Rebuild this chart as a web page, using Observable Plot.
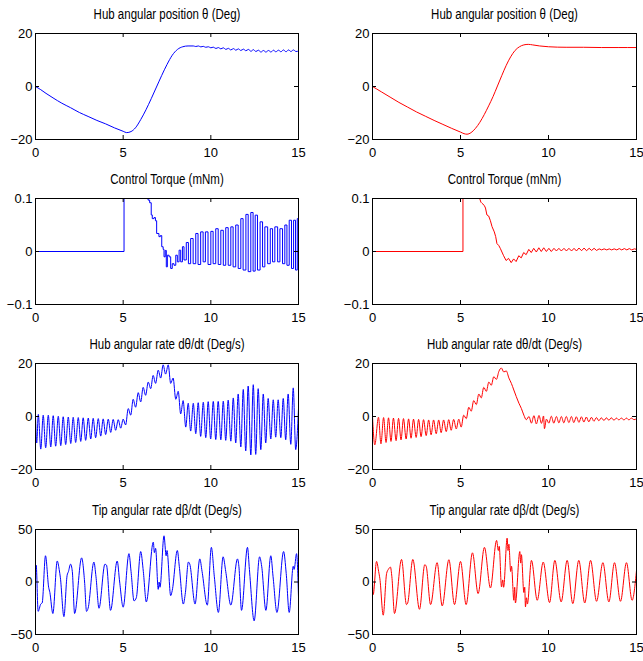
<!DOCTYPE html>
<html><head><meta charset="utf-8">
<script src="https://cdn.jsdelivr.net/npm/d3@7"></script>
<script src="https://cdn.jsdelivr.net/npm/@observablehq/plot@0.6"></script>
<style>
body{margin:0;background:#fff;}
#fig{position:relative;width:643px;height:661px;overflow:hidden;background:#fff;}
#fig svg{position:absolute;}
</style></head><body><div id="fig"></div>
<script>
// ---- titles & ticks ----
const titles = ["Hub angular position θ (Deg)", "Control Torque (mNm)", "Hub angular rate dθ/dt (Deg/s)", "Tip angular rate dβ/dt (Deg/s)"];
const xTicks = [0, 5, 10, 15];
const posTicks = [-20, 0, 20];
const torqueTicks = [-0.1, 0, 0.1];
const rateTicks = [-20, 0, 20];
const tipTicks = [-50, 0, 50];

// ---- series: [time s, value] ----
const posBlue = [[0,0],[0.3,-1.2],[0.6,-2.6],[1,-4.3],[1.5,-6.3],[2,-8.0],[2.5,-9.8],[3,-11.3],[3.5,-12.8],[4,-14.1],[4.5,-15.6],[5,-16.9],[5.2,-17.4],[5.45,-17.0],[5.7,-15.6],[6.0,-12.5],[6.3,-8.8],[6.6,-4.6],[6.9,-0.2],[7.2,4.2],[7.5,8.3],[7.8,11.8],[8.1,14.0],[8.4,15.0],[8.7,15.3],
[9.00,15.3],[9.14,15.1],[9.29,15.3],[9.43,14.95],[9.57,15.15],[9.71,14.8],[9.86,15.0],[10.00,14.6],[10.14,14.85],[10.29,14.35],[10.43,14.7],[10.57,14.2],[10.71,14.6],[10.86,14.0],[11.00,14.4],[11.14,13.8],[11.29,14.3],[11.43,13.7],[11.57,14.2],[11.71,13.6],[11.86,14.1],[12.00,13.5],[12.14,14.0],[12.29,13.3],[12.43,13.9],[12.57,13.2],[12.71,13.7],[12.86,13.0],[13.00,13.6],[13.14,13.0],[13.29,13.6],[13.43,13.0],[13.57,13.7],[13.71,13.1],[13.86,13.7],[14.00,13.1],[14.14,13.8],[14.29,13.1],[14.43,13.8],[14.57,13.2],[14.71,13.8],[14.86,13.2],[15.00,13.4]];

const posRed = [[0,0],[0.5,-2.0],[1,-4.0],[1.5,-6.0],[2,-7.8],[2.5,-9.6],[3,-11.2],[3.5,-12.8],[4,-14.3],[4.5,-15.8],[5,-17.2],[5.2,-17.8],[5.37,-18.0],[5.6,-17.4],[5.85,-15.8],[6.1,-13.5],[6.35,-10.6],[6.6,-7.3],[6.85,-3.8],[7.1,0.2],[7.35,4.2],[7.6,8.0],[7.85,11.2],[8.1,13.6],[8.35,15.0],[8.6,15.7],[8.85,15.9],[9.1,15.7],[9.5,15.3],[10,15.0],[11,14.8],[12,14.8],[13,14.7],[14,14.7],[15,14.7]];

const torqueBlue = [[0,0],[5.05,0.1],[6.42,0.097],[6.51,0.092],[6.6,0.069],[6.66,0.062],[6.76,0.064],[6.84,0.058],[6.91,0.034],[7.04,0.028],[7.12,0.03],[7.2,0.009],[7.28,0.004],[7.33,-0.01],[7.4,0.002],[7.46,-0.029],[7.52,-0.007],[7.62,-0.01],[7.71,-0.032],[7.8,-0.023],[7.9,-0.026],[8.0,-0.007],[8.09,-0.0195],[8.19,0.0025],[8.28,-0.0195],[8.38,0.009],[8.47,-0.016],[8.6,0.017],[8.72,-0.023],[8.85,0.0245],[8.99,-0.023],[9.14,0.034],[9.27,-0.0245],[9.42,0.037],[9.56,-0.0195],[9.69,0.037],[9.84,-0.0245],[10.0,0.038],[10.13,-0.023],[10.28,0.043],[10.42,-0.0245],[10.57,0.04],[10.71,-0.026],[10.85,0.045],[10.99,-0.026],[11.14,0.0465],[11.27,-0.029],[11.42,0.05],[11.56,-0.032],[11.71,0.062],[11.84,-0.035],[12.0,0.07],[12.13,-0.038],[12.28,0.0736],[12.41,-0.037],[12.53,0.0686],[12.66,-0.035],[12.81,0.056],[12.95,-0.029],[13.08,0.0465],[13.24,-0.023],[13.39,0.043],[13.52,-0.0195],[13.65,0.0465],[13.81,-0.0195],[13.94,0.043],[14.09,-0.023],[14.22,0.05],[14.34,-0.026],[14.47,0.059],[14.6,-0.032],[14.72,0.059],[14.83,-0.035],[14.93,0.062],[15.0,0.028]];

const torqueRed = [[0,0],[5.14,0],[5.14,0.1],[6.09,0.1],[6.16,0.093],[6.22,0.091],[6.35,0.087],[6.42,0.082],[6.5,0.069],[6.6,0.067],[6.7,0.058],[6.79,0.047],[6.92,0.037],[7.0,0.028],[7.07,0.015],[7.18,0.011],[7.26,0.006],[7.45,-0.008],[7.59,-0.017],[7.73,-0.013],[7.88,-0.021],[8.02,-0.014],[8.16,-0.019],[8.31,-0.008],[8.45,-0.012],[8.59,-0.002],[8.73,-0.006],[8.88,0.004],[9.02,-0.002],[9.16,0.006],[9.31,-0.001],[9.45,0.007],[9.59,0.0],[9.73,0.007],[9.88,0.0],[10.02,0.006],[10.16,0.0],[10.31,0.006],[10.45,0.001],[10.59,0.006],[10.73,0.001],[10.88,0.006],[11.02,0.001],[11.16,0.006],[11.31,0.001],[11.45,0.006],[11.59,0.001],[11.73,0.0065],[11.88,0.0015],[12.02,0.0065],[12.16,0.0015],[12.31,0.006],[12.45,0.002],[12.59,0.006],[12.73,0.002],[12.88,0.005],[13.02,0.003],[13.16,0.005],[13.31,0.003],[13.45,0.005],[13.59,0.003],[13.73,0.005],[13.88,0.003],[14.02,0.0055],[14.16,0.003],[14.31,0.0055],[14.45,0.003],[14.59,0.0055],[14.73,0.003],[14.88,0.005],[15.0,0.004]];

const rateBlue = [[0,0],[0.07,-10],[0.16,0.8],[0.30,-12.3],[0.44,0.5],[0.58,-11.8],[0.73,0.5],[0.87,-11.5],[1.01,0.3],[1.15,-11.2],[1.30,0.1],[1.44,-11],[1.58,-0.1],[1.72,-10.6],[1.87,-0.2],[2.01,-10.2],[2.15,-0.3],[2.29,-9.8],[2.44,-0.4],[2.58,-9.4],[2.72,-0.5],[2.86,-9],[3.01,-0.6],[3.15,-8.5],[3.29,-0.7],[3.43,-8],[3.58,-0.8],[3.72,-7.4],[3.86,-0.9],[4.0,-6.8],[4.15,-1.0],[4.29,-6.0],[4.43,-1.1],[4.57,-5.2],[4.72,-1.2],[4.86,-4.4],[5.0,-1.0],[5.14,-3.2],[5.29,3.0],[5.43,0.5],[5.57,6.5],[5.71,3.5],[5.86,9.0],[6.0,5.5],[6.14,11.0],[6.28,8.0],[6.43,13.0],[6.57,10.5],[6.71,15.5],[6.85,12.5],[7.0,17.5],[7.14,14.5],[7.28,19.5],[7.42,16.0],[7.57,19.5],[7.71,12.5],[7.85,14.5],[8.0,6.5],[8.14,9.5],[8.28,1.0],[8.42,6.0],
[8.57,-4.0],[8.71,5.0],[8.85,-5.5],[9.00,5.0],[9.14,-6.5],[9.28,5.2],[9.42,-7.5],[9.57,5.4],[9.71,-8.0],[9.85,5.6],[9.99,-8.5],[10.14,5.7],[10.28,-8.7],[10.42,5.7],[10.57,-8.8],[10.71,5.8],[10.85,-9.0],[10.99,6.2],[11.14,-9.3],[11.28,7.0],[11.42,-10.0],[11.56,8.5],[11.71,-11.5],[11.85,10.2],[11.99,-13.0],[12.13,11.5],[12.28,-14.5],[12.42,12.0],[12.56,-14.3],[12.70,10.5],[12.85,-12.5],[12.99,8.5],[13.13,-10.0],[13.27,6.8],[13.42,-8.5],[13.56,6.3],[13.70,-7.8],[13.84,6.3],[13.99,-8.0],[14.13,6.8],[14.27,-8.8],[14.41,8.5],[14.56,-10.5],[14.70,10.8],[14.84,-12.5],[15.0,3.0]];

const rateRed = [[0,0],[0.13,-10.7],[0.34,-0.3],[0.48,-10.3],[0.63,-0.4],[0.77,-9.8],[0.91,-0.5],[1.05,-9.4],[1.19,-0.6],[1.34,-9.1],[1.48,-0.7],[1.62,-8.8],[1.76,-0.8],[1.91,-8.5],[2.05,-0.9],[2.19,-8.2],[2.33,-1.0],[2.48,-7.9],[2.62,-1.1],[2.76,-7.6],[2.90,-1.2],[3.05,-7.2],[3.19,-1.3],[3.33,-6.9],[3.47,-1.3],[3.62,-6.5],[3.76,-1.3],[3.90,-6.1],[4.04,-1.3],[4.19,-5.7],[4.33,-1.2],[4.47,-5.2],[4.61,-1.1],[4.76,-4.7],[4.90,-1.0],[5.04,-4.0],[5.18,0.5],[5.33,-0.8],[5.47,3.5],[5.61,2.0],[5.75,6.0],[5.90,4.5],[6.04,8.5],[6.18,7.0],[6.32,11.0],[6.47,9.5],[6.61,13.0],[6.75,11.8],[6.89,15.0],[7.04,14.0],[7.18,17.0],[7.32,18.3],[7.46,16.8],[7.60,17.2],[7.75,14.5],[7.89,12.5],[8.03,10.0],[8.17,7.5],[8.32,5.0],[8.46,3.0],[8.60,0.5],[8.74,-1.2],[8.89,0.0],
[9.03,-2.5],[9.17,0.3],[9.31,-2.8],[9.46,0.4],[9.60,-2.6],[9.72,0.2],[9.77,-4.6],[9.88,-1.0],[10.02,-2.5],[10.16,0.1],[10.30,-2.5],[10.45,0.0],[10.59,-2.4],[10.73,0.0],[10.87,-2.4],[11.01,0.0],[11.16,-2.3],[11.30,0.0],[11.44,-2.3],[11.58,-0.1],[11.73,-2.2],[11.87,-0.1],[12.01,-2.1],[12.15,-0.2],[12.29,-2.0],[12.44,-0.3],[12.58,-1.8],[12.72,-0.4],[12.86,-1.6],[13.00,-0.5],[13.15,-1.5],[13.29,-0.5],[13.43,-1.4],[13.57,-0.5],[13.72,-1.4],[13.86,-0.6],[14.00,-1.3],[14.14,-0.6],[14.29,-1.3],[14.43,-0.6],[14.57,-1.3],[14.71,-0.6],[14.86,-1.2],[15.00,-0.8]];

const tipBlue = [[0,5],[0.04,16],[0.15,-28],[0.3,-21],[0.38,-20],[0.57,25],[0.75,-5],[0.82,-10],[0.99,-30],[1.24,20],[1.35,12],[1.42,4],[1.62,-33],[1.8,6],[1.88,10],[2.0,17],[2.1,10],[2.23,-30],[2.63,23],[2.8,0],[2.91,-28],[3.0,-25],[3.33,19],[3.45,5],[3.62,-25],[3.96,17],[4.05,16],[4.28,-27],[4.66,20],[4.8,0],[5.0,-24],[5.33,27],[5.45,10],[5.62,-18],[5.75,-15],[6.0,29],[6.15,10],[6.32,-19],[6.72,38],[6.78,28],[6.85,32],[7.0,-7],[7.05,0],[7.1,-5],[7.33,44],[7.45,25],[7.5,30],[7.71,-13],[7.8,-8],[8.09,30],[8.2,15],[8.43,-21],[8.55,-10],[8.72,19],[8.8,17],[9.1,-21],[9.37,22],[9.5,10],[9.8,-22],[10.03,33],[10.2,5],[10.43,-29],[10.7,24],[10.85,10],[11.14,-22],[11.52,22],[11.6,15],[11.75,-27],[12.09,33],[12.2,12],[12.47,-37],[12.78,24],[12.9,15],[13.14,-27],[13.42,25],[13.55,5],[13.77,-29],[14.15,29],[14.3,8],[14.47,-29],[14.7,15],[14.75,12],[14.89,27],[15.0,-14]];

const tipRed = [[0,0],[0.04,-12],[0.23,19.6],[0.35,10],[0.42,3],[0.61,-31.6],[0.8,8],[0.9,12],[1.02,14.2],[1.1,5],[1.25,-30],[1.65,21.5],[1.93,-21.5],[2.0,-20],[2.29,21.5],[2.67,-26],[2.97,16.5],[3.05,15],[3.3,-21.5],[3.67,18.4],[3.96,-22.8],[4.34,21.2],[4.66,-21.5],[5.0,19.6],[5.32,-21.5],[5.68,27.8],[6.0,-11],[6.36,33],[6.7,-5.7],[7.05,39.6],[7.15,30],[7.2,34],[7.33,-4.7],[7.4,2],[7.45,-5],[7.65,41.8],[7.7,30],[7.75,36],[7.85,10],[7.9,15],[8.03,-17.4],[8.08,-5],[8.12,-20],[8.37,29],[8.42,18],[8.46,26],[8.6,-10],[8.65,-5],[8.69,-23.7],[8.75,-15],[8.8,-21],[9.03,20.6],[9.36,-17.4],[9.7,19],[10.06,-19.6],[10.36,20.6],[10.72,-19],[11.06,20.6],[11.38,-20.6],[11.72,20.6],[12.06,-20],[12.39,20.6],[12.73,-18.4],[13.09,18.4],[13.43,-19],[13.75,18.4],[14.09,-18.4],[14.43,18.4],[14.75,-17.4],[15.0,11]];

const blue = "#0000ff", red = "#ff0000";

const fmt = d => (d < 0 ? "\u2212" : "") + Math.abs(d);
const fig = document.getElementById("fig");

function panel(col, row, title, series, color, yDomain, yTicks, curve) {
  const left = col === 0 ? 0 : 320, W = col === 0 ? 320 : 323;
  const top = [0, 165, 330, 495][row], H = row === 3 ? 166 : 165;
  const mL = col === 0 ? 35 : 52, mR = col === 0 ? 22 : 7;
  const mT = row === 3 ? 34 : 33, mB = row === 3 ? 27 : 26;
  const iW = W - mL - mR, iH = H - mT - mB;
  const tk = 4;
  const data = series.map(([t, v]) => ({t, v}));
  const svg = Plot.plot({
    width: W, height: H,
    marginLeft: mL, marginRight: mR, marginTop: mT, marginBottom: mB,
    style: {background: "transparent", color: "#000", fontFamily: "'Liberation Sans', Arial, Helvetica, sans-serif", fontSize: "13px", overflow: "visible"},
    x: {domain: [0, 15], axis: null},
    y: {domain: yDomain, axis: null},
    marks: [
      Plot.line(data, {x: "t", y: "v", stroke: color, strokeWidth: 1, curve}),
      Plot.frame({stroke: "#000", strokeWidth: 1}),
      Plot.tickX(xTicks, {x: d => d, insetTop: iH - tk, stroke: "#000"}),
      Plot.tickX(xTicks, {x: d => d, insetBottom: iH - tk, stroke: "#000"}),
      Plot.tickY(yTicks, {y: d => d, insetRight: iW - tk, stroke: "#000"}),
      Plot.tickY(yTicks, {y: d => d, insetLeft: iW - tk, stroke: "#000"}),
      Plot.axisX(xTicks, {tickSize: 0, tickPadding: 8, tickFormat: fmt, label: null}),
      Plot.axisY(yTicks, {tickSize: 0, tickPadding: 3, tickFormat: fmt, label: null}),
      Plot.text([title], {text: d => d, frameAnchor: "top", lineAnchor: "middle", dy: -19, fontSize: 14, fill: "#000", className: "ptitle"})
    ]
  });
  svg.style.left = left + "px";
  svg.style.top = top + "px";
  fig.appendChild(svg);
  // condense the title glyphs like the reference's narrow face
  svg.querySelectorAll(".ptitle text").forEach(t => {
    const L = t.getComputedTextLength();
    t.setAttribute("textLength", (L * 0.82).toFixed(1));
    t.setAttribute("lengthAdjust", "spacingAndGlyphs");
  });
}

panel(0, 0, titles[0], posBlue, blue, [-20, 20], posTicks, "monotone-x");
panel(1, 0, titles[0], posRed, red, [-20, 20], posTicks, "monotone-x");
panel(0, 1, titles[1], torqueBlue, blue, [-0.1, 0.1], torqueTicks, "step-after");
panel(1, 1, titles[1], torqueRed, red, [-0.1, 0.1], torqueTicks, "linear");
panel(0, 2, titles[2], rateBlue, blue, [-20, 20], rateTicks, "monotone-x");
panel(1, 2, titles[2], rateRed, red, [-20, 20], rateTicks, "monotone-x");
panel(0, 3, titles[3], tipBlue, blue, [-50, 50], tipTicks, "monotone-x");
panel(1, 3, titles[3], tipRed, red, [-50, 50], tipTicks, "monotone-x");
</script></body></html>
